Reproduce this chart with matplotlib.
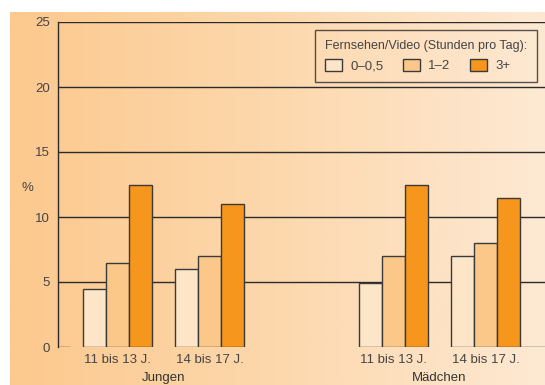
import numpy as np
import matplotlib
matplotlib.use("Agg")
import matplotlib.pyplot as plt
from matplotlib.patches import Patch
from matplotlib.colors import LinearSegmentedColormap

plt.rcParams['font.family'] = ['Liberation Sans', 'DejaVu Sans']

# TV/video hours per day, share in %
groups = ["Jungen", "Mädchen"]
ages = ["11 bis 13 J.", "14 bis 17 J."]
hours = ["0–0,5", "1–2", "3+"]
jungen = [[4.5, 6.5, 12.5], [6.0, 7.0, 11.0]]
maedchen = [[4.9, 7.0, 12.5], [7.0, 8.0, 11.5]]
yticks = [0, 5, 10, 15, 20, 25]

bar_colors = ["#fde5c8", "#fbc88a", "#f7961d"]
edge = "#3a3a3a"
text_col = "#444444"
fs = 9.5

fig = plt.figure(figsize=(5.45, 3.85), dpi=100)

# orange gradient background
bg = fig.add_axes([10 / 545, 0, 535 / 545, 373 / 385], zorder=-10)
cmap = LinearSegmentedColormap.from_list("bg", ["#fcc98e", "#fdd8ad", "#fde9d3"])
bg.imshow(np.linspace(0, 1, 256)[None, :], cmap=cmap, aspect="auto", extent=[0, 1, 0, 1])
bg.axis("off")

ax = fig.add_axes([58 / 545, 1 - 347 / 385, 487 / 545, 325 / 385])
ax.patch.set_alpha(0)

w = 1.0
centers = [0, 4, 12, 16]
data = jungen + maedchen
for c, vals in zip(centers, data):
    for i, v in enumerate(vals):
        ax.bar(c + (i - 1) * w, v, width=w, color=bar_colors[i], edgecolor=edge,
               linewidth=1.0, zorder=3)

xmin, xmax = -2.59, 18.59
ax.set_xlim(xmin, xmax)
ax.set_ylim(0, 25)

for y in yticks[1:]:
    ax.axhline(y, color="#2b2b2b", linewidth=1.0, zorder=1)
# short baseline stubs
ax.hlines(0, xmin, xmin + 0.52, color="#2b2b2b", linewidth=1.0, zorder=1)
ax.hlines(0, centers[-1] + 1.5, xmax, color="#2b2b2b", linewidth=1.0, zorder=1)

for s in ["top", "right", "bottom"]:
    ax.spines[s].set_visible(False)
ax.spines["left"].set_color("#2b2b2b")
ax.spines["left"].set_linewidth(1.0)

ax.set_yticks(yticks)
ax.set_yticklabels([str(t) for t in yticks], fontsize=fs, color=text_col)
ax.tick_params(axis="y", length=0, pad=6)
ax.set_xticks(centers)
ax.set_xticklabels(ages * 2, fontsize=fs, color=text_col)
ax.tick_params(axis="x", length=0, pad=5)

ax.text(-0.074, 0.49, "%", transform=ax.transAxes, fontsize=fs, color=text_col,
        ha="left", va="center")

for g, (a, b) in zip(groups, [(centers[0], centers[1]), (centers[2], centers[3])]):
    ax.text((a + b) / 2, -0.095, g, transform=ax.get_xaxis_transform(), fontsize=fs,
            color="#333333", ha="center", va="center")

handles = [Patch(facecolor=c, edgecolor=edge, linewidth=1.0) for c in bar_colors]
leg = ax.legend(handles, hours, title="Fernsehen/Video (Stunden pro Tag):", ncol=3,
                loc="upper right", bbox_to_anchor=(0.984, 0.975), borderaxespad=0,
                fontsize=fs, title_fontsize=9, frameon=True, fancybox=False,
                handlelength=1.3, handleheight=1.05, handletextpad=0.6,
                columnspacing=1.5, borderpad=0.75, alignment="left")
leg.get_frame().set_edgecolor("#2b2b2b")
leg.get_frame().set_facecolor("none")
leg.get_frame().set_linewidth(1.0)
leg.get_title().set_color(text_col)
for t in leg.get_texts():
    t.set_color(text_col)
leg.set_zorder(5)

fig.savefig("out.png", dpi=100)
